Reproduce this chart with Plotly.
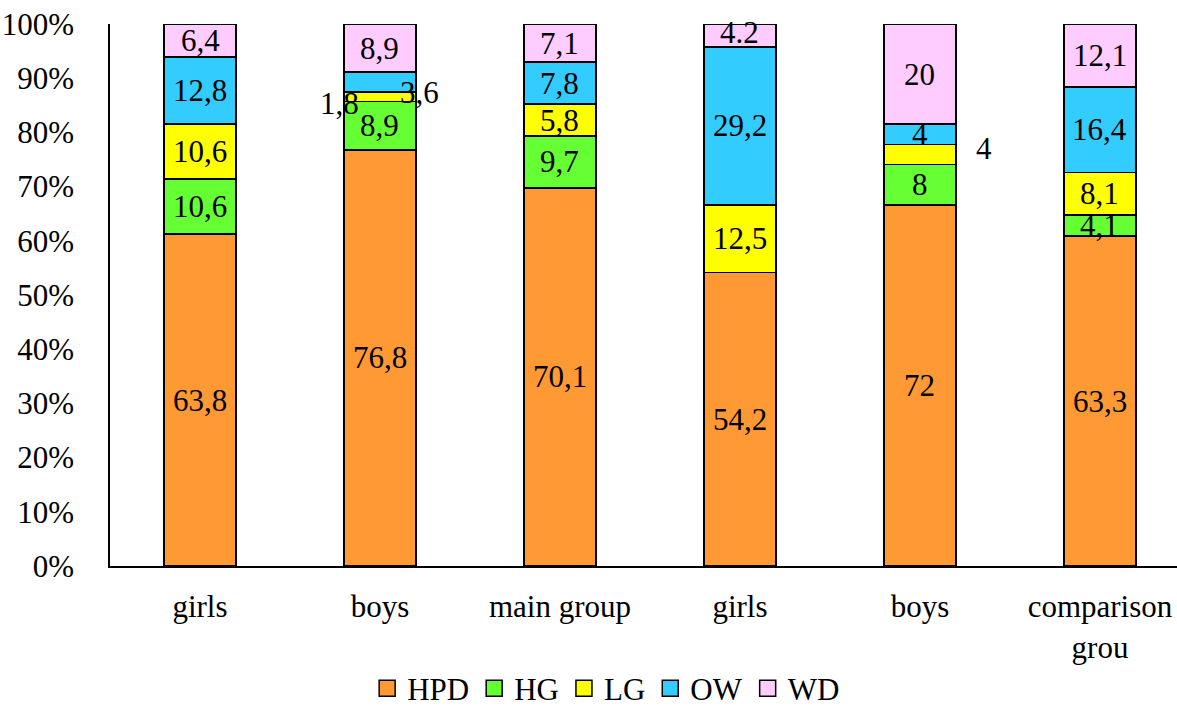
import plotly.graph_objects as go

# Categories along the x axis (two groups of girls / boys / total)
categories = ["girls", "boys", "main group", "girls", "boys", "comparison<br>grou"]

# Series values for each category
hpd = [63.8, 76.8, 70.1, 54.2, 72, 63.3]
hg = [10.6, 8.9, 9.7, 0, 8, 4.1]
lg = [10.6, 1.8, 5.8, 12.5, 4, 8.1]
ow = [12.8, 3.6, 7.8, 29.2, 4, 16.4]
wd = [6.4, 8.9, 7.1, 4.2, 20, 12.1]

# Label text for each segment ("" = no label)
hpd_labels = ["63,8", "76,8", "70,1", "54,2", "72", "63,3"]
hg_labels = ["10,6", "8,9", "9,7", "", "8", "4,1"]
lg_labels = ["10,6", "1,8", "5,8", "12,5", "4", "8,1"]
ow_labels = ["12,8", "3,6", "7,8", "29,2", "4", "16,4"]
wd_labels = ["6,4", "8,9", "7,1", "4.2", "20", "12,1"]

# y axis tick labels
y_ticks = [0, 10, 20, 30, 40, 50, 60, 70, 80, 90, 100]
y_tick_text = [f"{t}%" for t in y_ticks]

series = [
    ("HPD", hpd, hpd_labels, "#FF9933"),
    ("HG", hg, hg_labels, "#66FF33"),
    ("LG", lg, lg_labels, "#FFFF00"),
    ("OW", ow, ow_labels, "#33CCFF"),
    ("WD", wd, wd_labels, "#FFCCFF"),
]

# Manual nudges (pixels, +dy = down) for labels of thin segments
label_shift = {
    ("LG", 1): (-40, 7),
    ("OW", 1): (40, 11),
    ("WD", 3): (0, -3),
    ("LG", 4): (64, -6),
}

FONT = "Liberation Serif, Times New Roman, serif"
FS = 31

fig = go.Figure()
x_idx = list(range(len(categories)))
totals = [sum(s[1][i] for s in series) for i in x_idx]

for name, vals, labels, color in series:
    fig.add_trace(go.Bar(
        x=x_idx, y=vals, name=name, width=0.4,
        marker=dict(color=color, line=dict(color="black", width=1.8)),
        showlegend=False, hoverinfo="skip",
    ))
    # legend entry with a larger square swatch
    fig.add_trace(go.Scatter(
        x=[None], y=[None], mode="markers", name=name,
        marker=dict(symbol="square", size=16, color=color,
                    line=dict(color="black", width=1.5)),
    ))

# Segment labels placed at the middle of each normalised segment
cum = [0.0] * len(categories)
for name, vals, labels, color in series:
    for i in x_idx:
        pct = vals[i] / totals[i] * 100
        mid = cum[i] + pct / 2
        cum[i] += pct
        if not labels[i]:
            continue
        dx, dy = label_shift.get((name, i), (0, 0))
        fig.add_annotation(
            x=i, y=mid, xref="x", yref="y", text=labels[i], showarrow=False,
            xshift=dx, yshift=-dy,
            font=dict(family=FONT, size=FS, color="black"),
        )

fig.update_layout(
    barmode="stack", barnorm="percent",
    width=1177, height=710,
    margin=dict(l=110, r=0, t=24, b=144, autoexpand=False),
    paper_bgcolor="white", plot_bgcolor="white",
    font=dict(family=FONT, size=FS, color="black"),
    showlegend=True,
    legend=dict(
        orientation="h", traceorder="normal",
        xref="container", yref="paper",
        x=0.515, xanchor="center", y=-0.226, yanchor="middle",
        font=dict(family=FONT, size=31), itemwidth=30,
        bgcolor="rgba(0,0,0,0)",
    ),
    xaxis=dict(
        tickmode="array", tickvals=x_idx, ticktext=categories,
        range=[-0.5, 5.428], showline=True, linecolor="black", linewidth=2,
        ticks="", showgrid=False, zeroline=False, ticklabelstandoff=12,
    ),
    yaxis=dict(
        range=[0, 100], tickmode="array", tickvals=y_ticks, ticktext=y_tick_text,
        showline=True, linecolor="black", linewidth=1.5, ticks="",
        showgrid=False, zeroline=False, ticklabelstandoff=28,
    ),
)

fig.write_html("out.html")
